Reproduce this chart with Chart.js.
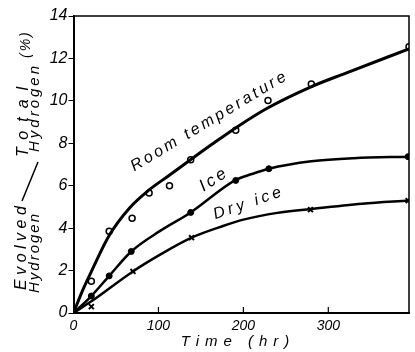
<!DOCTYPE html>
<html>
<head>
<meta charset="utf-8">
<script src="https://cdn.jsdelivr.net/npm/chart.js@4/dist/chart.umd.min.js"></script>
<style>
  html, body { margin: 0; padding: 0; background: #fff; }
  #wrap { width: 415px; height: 352px; }
</style>
</head>
<body>
<div id="wrap"><canvas id="chart" width="415" height="352"></canvas></div>
<script>
// smooth curves as drawn in the figure
var roomCurveT = [0, 10, 21, 42, 66, 89, 112, 137, 163, 190, 228, 279, 320, 395];
var roomCurveV = [0, 1.0, 1.95, 3.65, 4.95, 5.8, 6.47, 7.2, 7.95, 8.7, 9.65, 10.65, 11.3, 12.45];
var iceCurveT = [0, 21, 42, 68, 102, 138, 190, 210, 230, 280, 330, 395];
var iceCurveV = [0, 0.8, 1.75, 2.9, 3.87, 4.74, 6.25, 6.55, 6.8, 7.15, 7.3, 7.37];
var dryCurveT = [0, 21, 70, 102, 139, 176, 200, 240, 279, 340, 395];
var dryCurveV = [0, 0.55, 1.96, 2.75, 3.55, 4.1, 4.4, 4.72, 4.9, 5.15, 5.3];

// measured points
var roomT = [21, 42, 69, 89, 113, 138, 191, 229, 280, 395];
var roomV = [1.5, 3.85, 4.47, 5.66, 6.0, 7.22, 8.62, 10.02, 10.8, 12.55];
var iceT = [21, 42, 68, 138, 191, 230, 394];
var iceV = [0.8, 1.75, 2.9, 4.74, 6.25, 6.8, 7.37];
var dryT = [21, 70, 139, 279, 394];
var dryV = [0.3, 1.96, 3.55, 4.87, 5.3];

var xTicks = [0, 100, 200, 300];
var yTicks = [0, 2, 4, 6, 8, 10, 12, 14];

var FONT = "'Liberation Sans', 'DejaVu Sans', sans-serif";

function pts(ts, vs) {
    return ts.map(function(t, i) { return { x: t, y: vs[i] }; });
}

function curve(ts, vs, w) {
    return {
        data: pts(ts, vs),
        borderColor: "#000",
        borderWidth: w,
        pointRadius: 0,
        cubicInterpolationMode: "monotone",
        fill: false
    };
}

function marks(ts, vs, style, fillColor, r, bw) {
    return {
        data: pts(ts, vs),
        showLine: false,
        pointStyle: style,
        pointRadius: r,
        pointBorderWidth: bw,
        pointBorderColor: "#000",
        pointBackgroundColor: fillColor
    };
}

/** text labels, frame and axis titles */
var decor = {
    id: "decor",
    afterDraw: function(chart) {
        var ctx = chart.ctx;
        var xs = chart.scales.x, ys = chart.scales.y;
        var a = chart.chartArea;
        ctx.save();
        ctx.strokeStyle = "#000";
        ctx.fillStyle = "#000";

        // top and right frame
        ctx.lineWidth = 1.5;
        ctx.beginPath();
        ctx.moveTo(a.left, a.top);
        ctx.lineTo(a.right, a.top);
        ctx.lineTo(a.right, a.bottom);
        ctx.stroke();

        // x ticks drawn inward
        ctx.lineWidth = 1.2;
        xTicks.forEach(function(t) {
            if (t === 0) return;
            var px = xs.getPixelForValue(t);
            ctx.beginPath();
            ctx.moveTo(px, a.bottom);
            ctx.lineTo(px, a.bottom - 6);
            ctx.stroke();
        });

        // curve labels
        function label(text, t, v, deg, size, sp) {
            ctx.save();
            ctx.translate(xs.getPixelForValue(t), ys.getPixelForValue(v));
            ctx.rotate(deg * Math.PI / 180);
            ctx.font = "italic " + size + "px " + FONT;
            ctx.letterSpacing = sp + "px";
            ctx.textAlign = "left";
            ctx.textBaseline = "alphabetic";
            ctx.fillText(text, 0, 0);
            ctx.restore();
        }
        label("Room temperature", 71.5, 6.67, -31, 16, 3);
        label("Ice", 153, 5.71, -33, 17, 3);
        label("Dry ice", 167, 4.42, -19, 16, 3.5);

        // y axis title, read bottom to top
        function vtext(text, x, y, size, spacing) {
            ctx.save();
            ctx.translate(x, y);
            ctx.rotate(-Math.PI / 2);
            ctx.font = "italic " + size + "px " + FONT;
            ctx.letterSpacing = spacing + "px";
            ctx.textAlign = "left";
            ctx.textBaseline = "alphabetic";
            ctx.fillText(text, 0, 0);
            ctx.restore();
        }
        vtext("Evolved", 26, 290, 16, 4.5);
        vtext("Hydrogen", 39, 293, 15, 2);
        vtext("Total", 28, 157, 16, 9);
        vtext("Hydrogen", 39, 152, 15, 3);
        vtext("(%)", 30, 58, 14, 2);
        ctx.lineWidth = 1.5;
        ctx.beginPath();
        ctx.moveTo(22, 201);
        ctx.lineTo(38, 162);
        ctx.stroke();

        // x axis title
        ctx.font = "italic 15px " + FONT;
        ctx.letterSpacing = "6px";
        ctx.textAlign = "center";
        ctx.textBaseline = "middle";
        ctx.fillText("Time (hr)", 238, 342);
        ctx.restore();
    }
};

var chart = new Chart(document.getElementById("chart"), {
    type: "line",
    data: {
        datasets: [
            curve(roomCurveT, roomCurveV, 3),
            curve(iceCurveT, iceCurveV, 2.5),
            curve(dryCurveT, dryCurveV, 2.5),
            marks(roomT, roomV, "circle", "#fff", 3, 1.5),
            marks(iceT, iceV, "circle", "#000", 3, 1),
            marks(dryT, dryV, "crossRot", "#000", 3.5, 2)
        ]
    },
    options: {
        responsive: false,
        animation: false,
        layout: { padding: { left: 0, right: 3, top: 16, bottom: 0 } },
        plugins: {
            legend: { display: false },
            tooltip: { enabled: false }
        },
        scales: {
            x: {
                type: "linear",
                min: 0,
                max: 395,
                afterBuildTicks: function(s) {
                    s.ticks = xTicks.map(function(v) { return { value: v }; });
                },
                afterFit: function(s) { s.height = 39; },
                border: { display: true, color: "#000", width: 2 },
                grid: { display: true, drawOnChartArea: false, drawTicks: false },
                ticks: {
                    autoSkip: false,
                    maxRotation: 0,
                    padding: 5,
                    color: "#000",
                    font: { family: FONT, size: 14, style: "italic" },
                    callback: function(v) { return String(v); }
                }
            },
            y: {
                min: 0,
                max: 14,
                afterBuildTicks: function(s) {
                    s.ticks = yTicks.map(function(v) { return { value: v }; });
                },
                afterFit: function(s) { s.width = 73.5; },
                border: { display: true, color: "#000", width: 2 },
                grid: { display: true, drawOnChartArea: false, drawTicks: true, tickLength: 5, color: "#000" },
                ticks: {
                    padding: 1,
                    color: "#000",
                    font: { family: FONT, size: 16, style: "italic" },
                    callback: function(v) { return String(v); }
                }
            }
        }
    },
    plugins: [decor]
});
</script>
</body>
</html>
